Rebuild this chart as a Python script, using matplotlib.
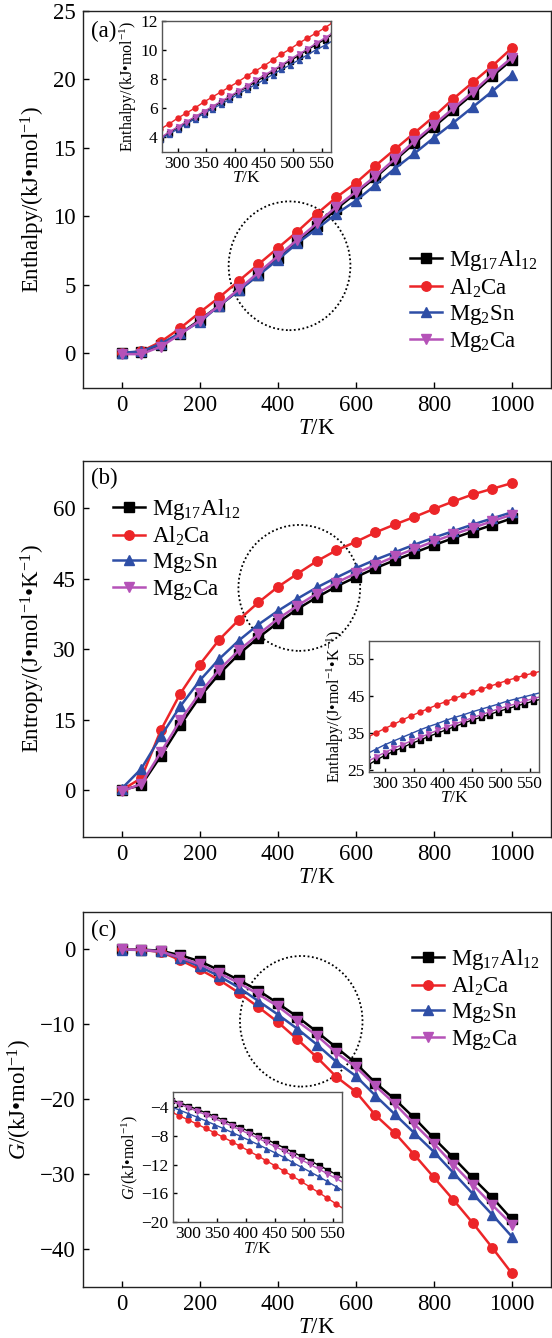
import numpy as np
import matplotlib.pyplot as plt
from matplotlib.patches import Ellipse

plt.rcParams['font.family'] = ['Liberation Serif', 'DejaVu Serif']
plt.rcParams['mathtext.fontset'] = 'custom'
plt.rcParams['mathtext.rm'] = 'Liberation Serif'
plt.rcParams['mathtext.it'] = 'Liberation Serif:italic'
plt.rcParams['mathtext.bf'] = 'Liberation Serif:bold'

# --- temperatures (K)
temps = [0, 50, 100, 150, 200, 250, 300, 350, 400, 450, 500,
         550, 600, 650, 700, 750, 800, 850, 900, 950, 1000]
temps_zoom = [270, 285, 300, 315, 330, 345, 360, 375, 390, 405, 420,
              435, 450, 465, 480, 495, 510, 525, 540, 555, 570]

labels = [r'Mg$_{17}$Al$_{12}$', r'Al$_2$Ca', r'Mg$_2$Sn', r'Mg$_2$Ca']
colors = ['#000000', '#ec2528', '#2e4ea6', '#b552b8']
markers = ['s', 'o', '^', 'v']

# --- (a) enthalpy, kJ/mol
enthalpy_mg17al12 = [0.0, 0.1, 0.6, 1.45, 2.45, 3.5, 4.6, 5.75, 6.95, 8.1, 9.3,
                     10.55, 11.7, 12.85, 14.1, 15.35, 16.55, 17.75, 18.95, 20.25, 21.45]
enthalpy_al2ca = [0.0, 0.15, 0.85, 1.85, 3.0, 4.1, 5.3, 6.5, 7.7, 8.9, 10.2,
                  11.4, 12.45, 13.7, 14.9, 16.1, 17.3, 18.6, 19.8, 21.0, 22.3]
enthalpy_mg2sn = [0.05, 0.15, 0.7, 1.5, 2.3, 3.5, 4.6, 5.7, 6.85, 8.05, 9.1,
                  10.2, 11.15, 12.3, 13.5, 14.6, 15.75, 16.85, 18.0, 19.15, 20.35]
enthalpy_mg2ca = [-0.05, -0.05, 0.5, 1.4, 2.4, 3.5, 4.7, 5.9, 7.1, 8.3, 9.5,
                  10.7, 11.8, 12.95, 14.2, 15.5, 16.7, 17.9, 19.1, 20.4, 21.6]

enthalpy_zoom_mg17al12 = [3.9, 4.3, 4.65, 5.0, 5.35, 5.7, 6.05, 6.4, 6.75, 7.1, 7.45,
                          7.8, 8.15, 8.5, 8.9, 9.25, 9.6, 10.0, 10.35, 10.7, 11.1]
enthalpy_zoom_al2ca = [4.55, 4.9, 5.3, 5.65, 6.0, 6.4, 6.75, 7.1, 7.45, 7.8, 8.2,
                       8.55, 8.9, 9.3, 9.7, 10.05, 10.45, 10.8, 11.15, 11.5, 11.9]
enthalpy_zoom_mg2sn = [3.85, 4.2, 4.55, 4.9, 5.25, 5.6, 5.95, 6.25, 6.6, 6.95, 7.3,
                       7.6, 7.95, 8.3, 8.65, 8.95, 9.3, 9.65, 10.0, 10.3, 10.65]
enthalpy_zoom_mg2ca = [3.95, 4.35, 4.7, 5.05, 5.4, 5.75, 6.1, 6.45, 6.8, 7.15, 7.5,
                       7.9, 8.25, 8.6, 8.95, 9.35, 9.7, 10.05, 10.45, 10.8, 11.2]

# --- (b) entropy, J/(mol K)
entropy_mg17al12 = [0.0, 1.0, 7.2, 13.8, 19.8, 24.7, 28.9, 32.4, 35.6, 38.5, 41.0,
                    43.3, 45.3, 47.2, 48.9, 50.5, 52.1, 53.6, 55.0, 56.4, 57.8]
entropy_al2ca = [0.0, 2.5, 12.7, 20.5, 26.7, 32.0, 36.2, 39.9, 43.2, 46.0, 48.7,
                 51.0, 52.8, 54.8, 56.5, 58.1, 59.8, 61.4, 62.9, 64.1, 65.3]
entropy_mg2sn = [0.3, 4.5, 11.4, 17.8, 23.3, 27.9, 31.8, 35.2, 38.1, 40.7, 43.1,
                 45.2, 47.2, 49.0, 50.6, 52.2, 53.7, 55.1, 56.5, 57.8, 59.1]
entropy_mg2ca = [-0.3, 1.3, 8.0, 14.8, 20.6, 25.6, 29.7, 33.1, 36.4, 39.2, 41.8,
                 44.1, 46.1, 47.9, 49.7, 51.3, 52.9, 54.4, 55.8, 57.2, 58.6]

entropy_zoom_mg17al12 = [26.2, 27.6, 28.9, 30.0, 31.0, 32.1, 33.0, 34.0, 34.9, 35.8, 36.7,
                         37.6, 38.5, 39.2, 40.0, 40.8, 41.5, 42.2, 42.9, 43.6, 44.2]
entropy_zoom_al2ca = [33.8, 35.0, 36.2, 37.3, 38.5, 39.6, 40.6, 41.6, 42.6, 43.5, 44.4,
                      45.2, 46.0, 46.8, 47.6, 48.4, 49.2, 49.9, 50.6, 51.2, 51.8]
entropy_zoom_mg2sn = [29.4, 30.6, 31.8, 32.8, 33.8, 34.8, 35.8, 36.7, 37.5, 38.4, 39.2,
                      39.9, 40.7, 41.4, 42.1, 42.8, 43.6, 44.2, 44.8, 45.4, 46.0]
entropy_zoom_mg2ca = [27.2, 28.5, 29.7, 30.8, 31.8, 32.8, 33.8, 34.7, 35.7, 36.6, 37.4,
                      38.2, 39.1, 39.9, 40.7, 41.5, 42.2, 42.9, 43.6, 44.3, 44.9]

# --- (c) Gibbs free energy, kJ/mol
gibbs_mg17al12 = [0.0, -0.05, -0.2, -0.8, -1.6, -2.8, -4.1, -5.5, -7.2, -9.0, -11.0,
                  -13.1, -15.2, -17.8, -20.0, -22.5, -25.2, -27.8, -30.5, -33.1, -36.0]
gibbs_al2ca = [0.0, -0.1, -0.35, -1.45, -2.7, -4.1, -5.8, -7.7, -9.7, -12.0, -14.4,
               -17.0, -19.0, -22.1, -24.5, -27.4, -30.4, -33.4, -36.5, -39.8, -43.2]
gibbs_mg2sn = [-0.05, -0.1, -0.3, -1.2, -2.3, -3.6, -5.1, -6.9, -8.7, -10.6, -12.7,
               -15.0, -16.9, -19.5, -22.0, -24.5, -27.0, -29.8, -32.6, -35.4, -38.3]
gibbs_mg2ca = [0.0, -0.1, -0.3, -1.1, -2.0, -3.2, -4.5, -6.0, -7.6, -9.6, -11.5,
               -13.8, -15.7, -18.2, -20.6, -23.3, -25.9, -28.7, -31.4, -34.1, -36.7]

gibbs_zoom_mg17al12 = [-3.0, -3.43, -3.88, -4.34, -4.82, -5.31, -5.81, -6.33, -6.86, -7.4, -7.95,
                       -8.51, -9.08, -9.66, -10.25, -10.85, -11.46, -12.08, -12.71, -13.35, -14.0]
gibbs_zoom_al2ca = [-4.7, -5.25, -5.81, -6.39, -6.98, -7.58, -8.2, -8.83, -9.47, -10.13, -10.8,
                    -11.48, -12.18, -12.89, -13.61, -14.35, -15.1, -15.86, -16.64, -17.43, -18.23]
gibbs_zoom_mg2sn = [-4.0, -4.46, -4.94, -5.43, -5.94, -6.46, -6.99, -7.53, -8.08, -8.64, -9.21,
                    -9.79, -10.38, -11.0, -11.7, -12.35, -13.0, -13.65, -14.35, -15.05, -15.75]
gibbs_zoom_mg2ca = [-3.2, -3.65, -4.12, -4.6, -5.1, -5.61, -6.13, -6.66, -7.21, -7.77, -8.34,
                    -8.92, -9.51, -10.11, -10.72, -11.34, -11.97, -12.61, -13.26, -13.92, -14.59]

W, H = 552, 1338
fig = plt.figure(figsize=(W / 100, H / 100), dpi=100)


def px_axes(left, top, right, bottom):
    return fig.add_axes([left / W, 1 - bottom / H, (right - left) / W, (bottom - top) / H])


def style(ax, size, pad=5, length=4.5, edge='#222222'):
    for s in ax.spines.values():
        s.set_linewidth(1.0)
        s.set_color(edge)
    ax.tick_params(direction='in', length=length, width=1.0, labelsize=size, pad=pad,
                   top=False, right=False)


def draw_main(ax, series, ylim, yticks, ylabel, tag, legend_xy, ellipse):
    for vals, c, m, lab in zip(series, colors, markers, labels):
        ax.plot(temps, vals, color=c, marker=m, markersize=6.8, linewidth=1.8, label=lab)
    ax.set_xlim(-100, 1100)
    ax.set_ylim(*ylim)
    ax.set_xticks([0, 200, 400, 600, 800, 1000])
    ax.set_yticks(yticks)
    style(ax, 16.5)
    ax.set_xlabel(r'$T$/K', fontsize=16.5, labelpad=1.5)
    ax.set_ylabel(ylabel, fontsize=16.5, labelpad=4)
    ax.text(0.018, tag[1], tag[0], transform=ax.transAxes, fontsize=16.5, ha='left', va='center')
    ax.legend(loc='upper left', bbox_to_anchor=legend_xy, frameon=False, fontsize=16.5,
              handlelength=1.4, handletextpad=0.3, labelspacing=0.13,
              borderpad=0, borderaxespad=0)
    ax.add_patch(Ellipse(ellipse[:2], ellipse[2], ellipse[3], fill=False, color='black',
                         linewidth=1.3, linestyle=(0, (1, 1.4))))


def draw_inset(ax, series, ylim, yticks, ylabel):
    for vals, c, m in zip(series, colors, markers):
        ax.plot(temps_zoom, vals, color=c, marker=m, markersize=3.6, linewidth=1.0)
    ax.set_xlim(273, 566)
    ax.set_ylim(*ylim)
    ax.set_xticks([300, 350, 400, 450, 500, 550])
    ax.set_yticks(yticks)
    style(ax, 12.5, pad=3, length=3, edge='#555555')
    ax.set_xlabel(r'$T$/K', fontsize=12.5, labelpad=-1)
    ax.set_ylabel(ylabel, fontsize=11.5, labelpad=1)


# (a)
ax_a = px_axes(82.7, 11, 551, 387.7)
draw_main(ax_a, [enthalpy_mg17al12, enthalpy_al2ca, enthalpy_mg2sn, enthalpy_mg2ca],
          (-2.5, 25), [0, 5, 10, 15, 20, 25], 'Enthalpy/(kJ•mol$^{-1}$)',
          ('(a)', 0.945), (0.699, 0.37), (430, 6.4, 312, 9.4))
ins_a = px_axes(162, 20.7, 331, 151.7)
draw_inset(ins_a, [enthalpy_zoom_mg17al12, enthalpy_zoom_al2ca, enthalpy_zoom_mg2sn,
                   enthalpy_zoom_mg2ca],
           (3, 12), [4, 6, 8, 10, 12], 'Enthalpy/(kJ•mol$^{-1}$)')

# (b)
ax_b = px_axes(82.7, 461, 551, 837)
draw_main(ax_b, [entropy_mg17al12, entropy_al2ca, entropy_mg2sn, entropy_mg2ca],
          (-10, 70), [0, 15, 30, 45, 60], 'Entropy/(J•mol$^{-1}$•K$^{-1}$)',
          ('(b)', 0.954), (0.064, 0.905), (455, 43, 312, 26.8))
ins_b = px_axes(369, 640.7, 539.4, 771.7)
draw_inset(ins_b, [entropy_zoom_mg17al12, entropy_zoom_al2ca, entropy_zoom_mg2sn,
                   entropy_zoom_mg2ca],
           (24.5, 60), [25, 35, 45, 55], 'Enthalpy/(J•mol$^{-1}$•K$^{-1}$)')

# (c)
ax_c = px_axes(82.7, 911.7, 551, 1287)
draw_main(ax_c, [gibbs_mg17al12, gibbs_al2ca, gibbs_mg2sn, gibbs_mg2ca],
          (-45, 5), [0, -10, -20, -30, -40], r'$G$/(kJ•mol$^{-1}$)',
          ('(c)', 0.951), (0.703, 0.907), (460, -9.6, 314, 17.4))
ins_c = px_axes(172.5, 1092.3, 342.3, 1222.3)
draw_inset(ins_c, [gibbs_zoom_mg17al12, gibbs_zoom_al2ca, gibbs_zoom_mg2sn,
                   gibbs_zoom_mg2ca],
           (-20, -2), [-4, -8, -12, -16, -20], r'$G$/(kJ•mol$^{-1}$)')

fig.savefig('out.png', dpi=100)
